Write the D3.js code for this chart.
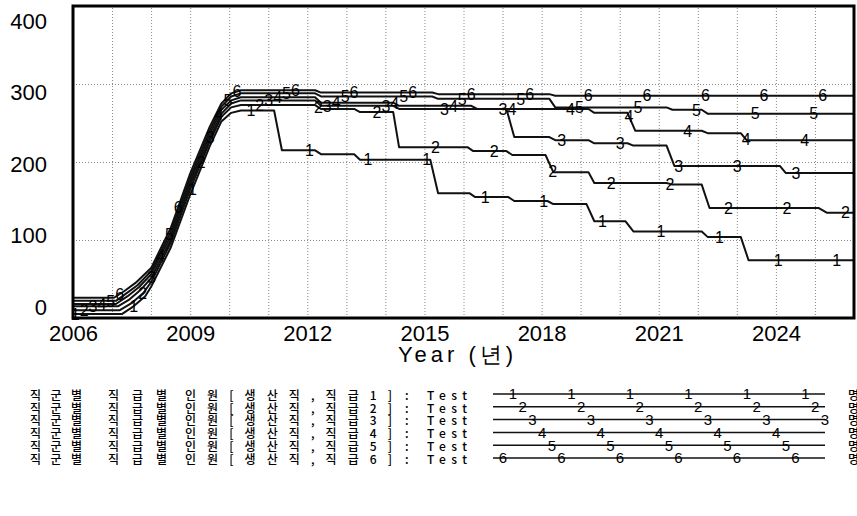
<!DOCTYPE html>
<head>
<meta charset="utf-8">
<script src="https://d3js.org/d3.v7.min.js"></script>
<style>
    body { margin:0; background:#fff; }
    svg { display:block; }

    .grid line { stroke:#888; stroke-dasharray:1,2; stroke-width:1; }
    .grid .domain { display:none; }

    .frame { fill:none; stroke:#000; stroke-width:3; }

    .series { fill:none; stroke:#111; stroke-width:2; stroke-linejoin:round; }
    .legend-line { stroke:#111; stroke-width:1.5; }

    .tick-labels text, .axis-title {
        font-family:'Liberation Sans', Arial, sans-serif;
        font-size:22px;
        fill:#000;
    }
    .tick-labels .domain { display:none; }

    .marker {
        font-family:'Liberation Sans', Arial, sans-serif;
        font-size:16px;
        text-anchor:middle;
        fill:#000;
    }
    .legend-text {
        font-family:'Noto Sans CJK KR', sans-serif;
        font-size:12px;
        font-weight:500;
        fill:#000;
    }
</style>
</head>

<body>
<script>
    // ---- data ----
    const yearTicks = [2006, 2009, 2012, 2015, 2018, 2021, 2024];
    const valueTicks = [0, 100, 200, 300, 400];
    const seriesKeys = ['1', '2', '3', '4', '5', '6'];
    const seriesLabels = [
        '직군별 직급별 인원[생산직,직급1]',
        '직군별 직급별 인원[생산직,직급2]',
        '직군별 직급별 인원[생산직,직급3]',
        '직군별 직급별 인원[생산직,직급4]',
        '직군별 직급별 인원[생산직,직급5]',
        '직군별 직급별 인원[생산직,직급6]'
    ];
    const runName = 'Test';
    const unitLabel = '명';
    const xTitle = 'Year (년)';

    // [year, value]
    const series1 = [[2006,5],[2007.25,5],[2007.55,15],[2007.85,28],[2008,40],[2008.5,90],[2009,158],[2009.5,220],[2009.8,252],[2010.05,263],[2010.3,266],
        [2011.15,266],[2011.35,215],[2012.2,215],[2012.35,210],[2013.2,210],[2013.35,203],[2015.15,203],[2015.35,160],[2016.15,160],[2016.3,155],
        [2017.15,155],[2017.3,150],[2018.15,150],[2018.3,146],[2019.15,146],[2019.35,124],[2020.15,124],[2020.35,111],[2022.1,111],[2022.25,104],
        [2023.1,104],[2023.3,74],[2026,74]];
    const series2 = [[2006,10],[2007.2,10],[2007.5,19],[2007.8,32],[2008,46],[2008.5,96],[2009,165],[2009.5,226],[2009.8,258],[2010.05,270],[2010.3,273],
        [2012.2,273],[2012.35,268],[2013.2,268],[2013.35,264],[2014.2,264],[2014.35,219],[2016.1,219],[2016.25,214],[2017.1,214],[2017.25,209],
        [2018.1,209],[2018.3,187],[2019.2,187],[2019.35,173],[2021.2,173],[2021.35,171],[2022.1,171],[2022.3,141],[2025.1,141],[2025.3,135],[2026,135]];
    const series3 = [[2006,15],[2007.15,15],[2007.45,24],[2007.75,37],[2008,51],[2008.5,100],[2009,170],[2009.5,230],[2009.8,262],[2010.05,275],[2010.3,279],
        [2012.2,279],[2012.35,272],[2014.2,272],[2014.35,268],[2017.1,268],[2017.3,232],[2018.2,232],[2018.35,228],[2019.2,228],[2019.35,224],
        [2020.2,224],[2020.35,221],[2021.2,221],[2021.4,195],[2024.1,195],[2024.25,186],[2026,186]];
    const series4 = [[2006,18],[2007.1,18],[2007.4,28],[2007.7,40],[2008,56],[2008.5,105],[2009,175],[2009.5,235],[2009.8,267],[2010.05,279],[2010.3,283],
        [2012.2,283],[2012.35,276],[2014.2,276],[2014.35,272],[2016.2,272],[2016.35,268],[2019.2,268],[2019.35,263],[2020.2,263],[2020.4,240],
        [2022.1,240],[2022.25,237],[2023.1,237],[2023.25,228],[2026,228]];
    const series5 = [[2006,22],[2007.1,22],[2007.35,31],[2007.65,42],[2008,60],[2008.5,110],[2009,180],[2009.5,240],[2009.8,271],[2010.05,284],[2010.3,288],
        [2012.2,288],[2012.35,284],[2015.2,284],[2015.35,281],[2018.2,281],[2018.35,270],[2021.2,270],[2021.35,267],[2022.1,267],[2022.25,262],[2026,262]];
    const series6 = [[2006,26],[2007.05,26],[2007.3,34],[2007.6,45],[2008,64],[2008.5,115],[2009,185],[2009.5,245],[2009.8,275],[2010.05,288],[2010.3,292],
        [2012.2,292],[2012.35,289],[2015.2,289],[2015.35,287],[2018.2,287],[2018.35,285],[2026,285]];

    const allSeries = [series1, series2, series3, series4, series5, series6];

    // ---- layout ----
    const width = 857, height = 516;
    const plot = {left: 73, right: 854, top: 6, bottom: 318};

    const xScale = d3.scaleLinear().domain([2006, 2026]).range([plot.left, plot.right]);
    const yScale = d3.scaleLinear().domain([0, 400]).range([plot.bottom, plot.top]);
    // the printed value labels sit a bit tighter than the grid
    const yLabelScale = d3.scaleLinear().domain([0, 400]).range([307, 21]);

    const svg = d3.select('body').append('svg')
        .attr('width', width)
        .attr('height', height);

    // grid
    svg.append('g')
        .attr('class', 'grid')
        .attr('transform', `translate(0,${plot.bottom})`)
        .call(d3.axisBottom(xScale)
            .tickValues(d3.range(2007, 2026))
            .tickSize(-(plot.bottom - plot.top))
            .tickFormat(''));

    svg.append('g')
        .attr('class', 'grid')
        .attr('transform', `translate(${plot.left},0)`)
        .call(d3.axisLeft(yScale)
            .tickValues([100, 200, 300])
            .tickSize(-(plot.right - plot.left))
            .tickFormat(''));

    // lines
    const line = d3.line()
        .x(d => xScale(d[0]))
        .y(d => yScale(d[1]));

    svg.append('g').selectAll('path')
        .data(allSeries)
        .join('path')
        .attr('class', 'series')
        .attr('d', line);

    // numbered markers along each line
    function valueAt(data, year) {
        for (let i = 1; i < data.length; i++) {
            if (year <= data[i][0]) {
                const [x0, y0] = data[i - 1], [x1, y1] = data[i];
                return y0 + (y1 - y0) * (year - x0) / (x1 - x0);
            }
        }
        return data[data.length - 1][1];
    }

    const markerGap = 1.5;
    allSeries.forEach((data, k) => {
        const marks = [];
        for (let yr = 2006.056 + 0.228 * k; yr <= 2026; yr += markerGap) marks.push(yr);
        svg.append('g').selectAll('text')
            .data(marks)
            .join('text')
            .attr('class', 'marker')
            .attr('x', d => xScale(d))
            .attr('y', d => yScale(valueAt(data, d)))
            .attr('dy', '0.36em')
            .text(seriesKeys[k]);
    });

    // frame
    svg.append('rect')
        .attr('class', 'frame')
        .attr('x', plot.left)
        .attr('y', plot.top)
        .attr('width', plot.right - plot.left)
        .attr('height', plot.bottom - plot.top);

    // axis labels
    svg.append('g')
        .attr('class', 'tick-labels')
        .attr('transform', 'translate(47,0)')
        .call(d3.axisLeft(yLabelScale).tickValues(valueTicks).tickSize(0).tickPadding(0).tickFormat(d3.format('d')));

    const xAxis = svg.append('g')
        .attr('class', 'tick-labels')
        .attr('transform', `translate(0,${plot.bottom})`)
        .call(d3.axisBottom(xScale).tickValues(yearTicks).tickSize(0).tickPadding(7).tickFormat(d3.format('d')));
    xAxis.selectAll('text').attr('dy', '0.73em');

    svg.append('text')
        .attr('class', 'axis-title')
        .attr('x', 398)
        .attr('y', 362)
        .attr('textLength', 115)
        .attr('lengthAdjust', 'spacing')
        .text(xTitle);

    // legend
    const legendTop = 395, rowGap = 12.8;
    const legendLine = {x1: 493, x2: 825};
    // word boxes of the label: [left, width]
    const wordBoxes = [[30, 52], [108, 59], [185, 207]];
    const legend = svg.append('g');

    seriesLabels.forEach((label, k) => {
        const cy = legendTop + rowGap * k;
        const row = legend.append('g');

        label.split(' ').forEach((word, i) => {
            row.append('text').attr('class', 'legend-text')
                .attr('x', wordBoxes[i][0]).attr('y', cy).attr('dy', '0.4em')
                .attr('textLength', wordBoxes[i][1]).attr('lengthAdjust', 'spacing')
                .text(word);
        });
        row.append('text').attr('class', 'legend-text')
            .attr('x', 405).attr('y', cy).attr('dy', '0.4em')
            .text(':');
        row.append('text').attr('class', 'legend-text')
            .attr('x', 427).attr('y', cy).attr('dy', '0.4em')
            .attr('textLength', 40).attr('lengthAdjust', 'spacing')
            .text(runName);

        row.append('line').attr('class', 'legend-line')
            .attr('x1', legendLine.x1).attr('x2', legendLine.x2)
            .attr('y1', cy - 1).attr('y2', cy - 1);

        let start = legendLine.x1 + 20 + 9.7 * k;
        if (start > legendLine.x1 + 62) start -= 58.5;
        const xs = [];
        for (let x = start; x <= legendLine.x2; x += 58.5) xs.push(x);
        row.selectAll('.marker')
            .data(xs)
            .join('text')
            .attr('class', 'marker')
            .style('font-size', '15px')
            .attr('x', d => d)
            .attr('y', cy - 1)
            .attr('dy', '0.36em')
            .text(seriesKeys[k]);

        row.append('text').attr('class', 'legend-text')
            .attr('x', 848).attr('y', cy).attr('dy', '0.4em')
            .text(unitLabel);
    });
</script>
</body>
